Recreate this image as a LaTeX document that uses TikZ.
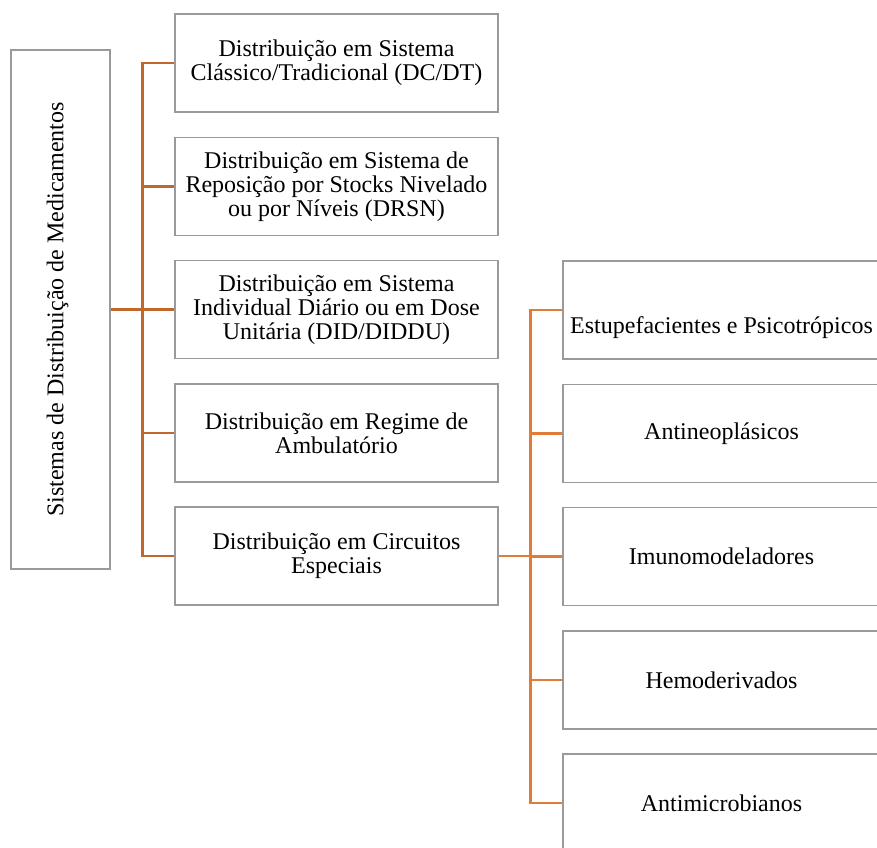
\documentclass[tikz,border=0pt]{standalone}
\usepackage{fontspec}
\setmainfont{Liberation Serif}
\definecolor{branchdark}{HTML}{C0672C}
\definecolor{branchlight}{HTML}{E07B39}
\definecolor{boxgray}{HTML}{9A9A9A}
\begin{document}
\begin{tikzpicture}[x=0.75pt, y=-0.75pt,
        box/.style={draw=boxgray, line width=1pt, fill=white, align=center,
            minimum width=242.25pt, minimum height=73.5pt, inner sep=2pt,
            font=\fontsize{18pt}{18pt}\selectfont},
        branchA/.style={draw=branchdark, line width=2pt},
        branchB/.style={draw=branchlight, line width=2pt}]
            \useasboundingbox (0, 0) rectangle (877, 848);
            \clip (0, 0) rectangle (877, 848);

            \node[box, minimum width=74.25pt, minimum height=389.25pt] (s0) at (60.5, 309.5)
                { \rotatebox{90}{Sistemas de Distribuição de Medicamentos} };

            \node[box] (d1) at (336.5, 63) { Distribuição em Sistema\\ Clássico/Tradicional (DC/DT) };
            \node[box] (d2) at (336.5, 186.5) { Distribuição em Sistema de\\ Reposição por Stocks Nivelado\\ ou por Níveis (DRSN) };
            \node[box] (d3) at (336.5, 309.5) { Distribuição em Sistema\\ Individual Diário ou em Dose\\ Unitária (DID/DIDDU) };
            \node[box] (d4) at (336.5, 433) { Distribuição em Regime de\\ Ambulatório };
            \node[box] (d5) at (336.5, 556) { Distribuição em Circuitos\\ Especiais };

            \node[box, text height=40pt, text depth=4pt] (c1) at (724.5, 310) { Estupefacientes e Psicotrópicos };
            \node[box] (c2) at (724.5, 433.5) { Antineoplásicos };
            \node[box] (c3) at (724.5, 556.5) { Imunomodeladores };
            \node[box] (c4) at (724.5, 680) { Hemoderivados };
            \node[box] (c5) at (724.5, 803) { Antimicrobianos };

            % ramos do primeiro nivel
            \draw[branchA] (s0.east) -- ++(32, 0) coordinate (j0);
            \foreach \i in {1,...,5}
                \draw[branchA] (j0) |- (d\i.west);

            % ramos dos circuitos especiais
            \draw[branchB] (d5.east) -- ++(32, 0) coordinate (j1);
            \foreach \i in {1,...,5}
                \draw[branchB] (j1) |- (c\i.west);

        \end{tikzpicture}
\end{document}
